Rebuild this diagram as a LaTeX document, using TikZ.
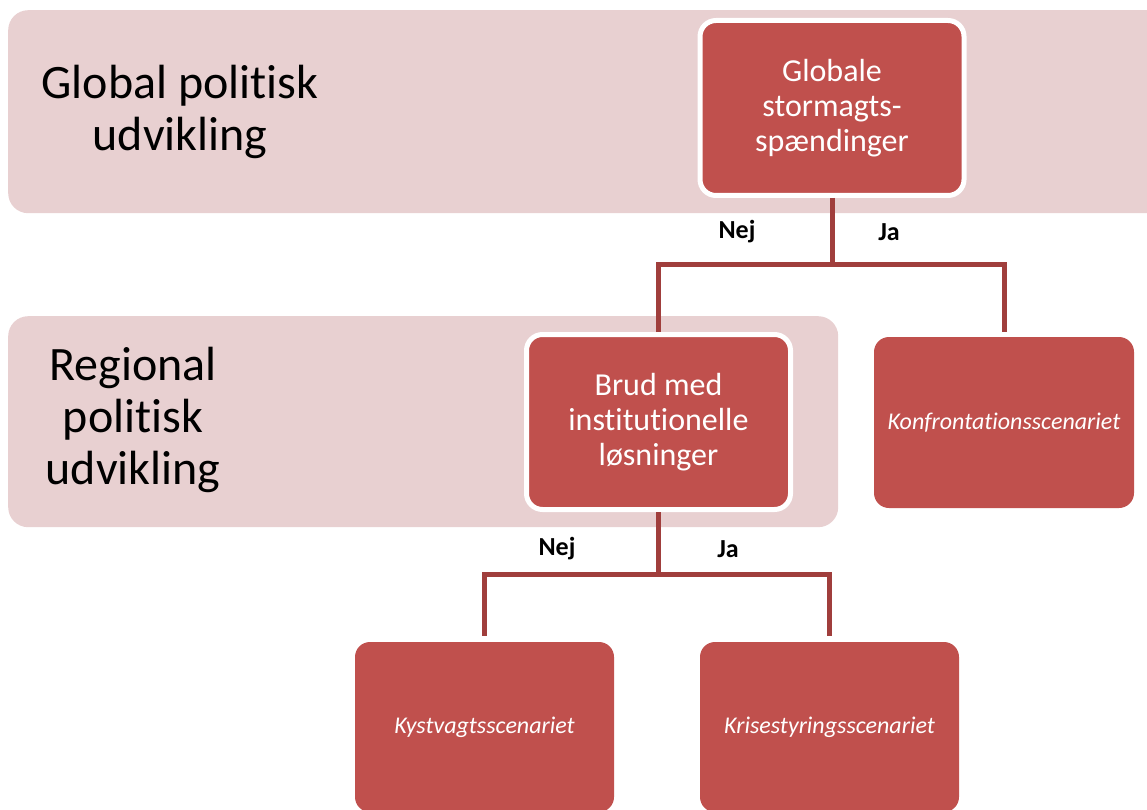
\documentclass[tikz,border=0pt]{standalone}
\usepackage{fontspec}
\setmainfont{Carlito}[Ligatures=NoCommon]
\usetikzlibrary{positioning}

\definecolor{bandpink}{RGB}{232,208,209}
\definecolor{boxred}{RGB}{192,80,77}
\definecolor{linkred}{RGB}{160,62,60}

\begin{document}
\begin{tikzpicture}[x=1pt, y=-1pt,
    band/.style={rectangle, fill=bandpink, rounded corners=20pt, anchor=north west, inner sep=0pt},
    bandlabel/.style={align=center, font=\fontsize{48}{52}\selectfont},
    question/.style={rectangle, fill=boxred, draw=white, line width=5pt, rounded corners=16pt,
      minimum width=264pt, minimum height=175pt, text=white, align=center,
      font=\fontsize{32}{35}\selectfont},
    scenario/.style={rectangle, fill=boxred, rounded corners=15pt, minimum width=259pt,
      text=white, font=\fontsize{24}{28}\selectfont\itshape},
    answer/.style={font=\fontsize{26}{30}\selectfont\bfseries},
    link/.style={draw=linkred, line width=5pt}]
  \clip (0,0) rectangle (1147,810);

  % baggrund
  \node[band, minimum width=1180pt, minimum height=203pt] (globalband) at (8,10) {};
  \node[band, minimum width=830pt, minimum height=211pt] (regionband) at (8,316) {};
  \node[bandlabel] (globaltxt) at (180,112) {Global politisk\\udvikling};
  \node[bandlabel] (regiontxt) at (133,420) {Regional\\politisk\\udvikling};

  % spoergsmaal og scenarier
  \node[question] (glob) at (832,108) {Globale\\stormagts-\\spændinger};
  \node[question] (brud) at (658.5,422) {Brud med\\institutionelle\\løsninger};
  \node[scenario, minimum height=171pt, minimum width=260pt] (konf) at (1004,422.5) {Konfrontationsscenariet};
  \node[scenario, minimum height=170pt] (kyst) at (484.5,727) {Kystvagtsscenariet};
  \node[scenario, minimum height=170pt] (krise) at (829.5,727) {Krisestyringsscenariet};

  \coordinate (split1) at (832,264);
  \coordinate (split2) at (658.5,574);

  \draw[link] (glob.south) -- (split1);
  \draw[link] (brud.north) |- (split1);
  \draw[link, shorten >=5pt] (split1) -| (konf.north);
  \draw[link] (brud.south) -- (split2);
  \draw[link, shorten >=6pt] (split2) -| (kyst.north);
  \draw[link, shorten >=6pt] (split2) -| (krise.north);

  \node[answer] (nej1) at (737,232) {Nej};
  \node[answer] (ja1) at (889,232) {Ja};
  \node[answer] (nej2) at (557,549) {Nej};
  \node[answer] (ja2) at (728,549) {Ja};
\end{tikzpicture}
\end{document}
